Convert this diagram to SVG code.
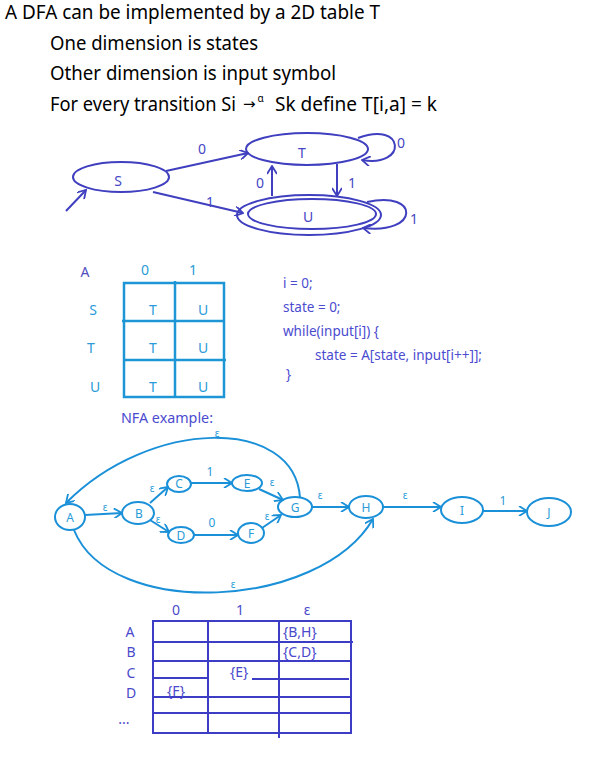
<svg xmlns="http://www.w3.org/2000/svg" width="600" height="757" viewBox="0 0 600 757">
<style>
.h{font-family:"Noto Sans","Open Sans",sans-serif;fill:#000}
.d{fill:none;stroke:#3f3fbf;stroke-width:2}
.dt{font-family:"Noto Sans","Open Sans",sans-serif;font-size:14px;fill:#4646c4;text-anchor:middle}
.t1{fill:none;stroke:#1e96d6;stroke-width:2.5}
.t1t{font-family:"Noto Sans","Open Sans",sans-serif;font-size:14px;fill:#2a9bd8;text-anchor:middle}
.code{font-family:"Noto Sans","Open Sans",sans-serif;font-size:13.5px;fill:#4b4bd0}
.n{fill:none;stroke:#1a90d8;stroke-width:2}
.nt{font-family:"Noto Sans","Open Sans",sans-serif;font-size:12px;fill:#2a9bd8;text-anchor:middle}
.ne{font-family:"Noto Sans","Open Sans",sans-serif;font-size:10px;fill:#2a9bd8;text-anchor:middle}
.t2{fill:none;stroke:#3c3cc4;stroke-width:2}
.t2t{font-family:"Noto Sans","Open Sans",sans-serif;font-size:14px;fill:#4a4acc}
</style>
<defs>
<marker id="ad" viewBox="0 0 10 10" refX="9" refY="5" markerWidth="10" markerHeight="10" markerUnits="userSpaceOnUse" orient="auto">
<path d="M1,0 L9,5 L1,10" fill="none" stroke="#3f3fbf" stroke-width="1.8"/>
</marker>
<marker id="an" viewBox="0 0 10 10" refX="9" refY="5" markerWidth="10" markerHeight="10" markerUnits="userSpaceOnUse" orient="auto">
<path d="M1,0 L9,5 L1,10" fill="none" stroke="#1a90d8" stroke-width="1.8"/>
</marker>
</defs>

<g id="heading">
<text class="h" x="5" y="19" font-size="19" textLength="375" lengthAdjust="spacingAndGlyphs">A DFA can be implemented by a 2D table T</text>
<text class="h" x="50" y="50" font-size="19" textLength="208" lengthAdjust="spacingAndGlyphs">One dimension is states</text>
<text class="h" x="50" y="80" font-size="19" textLength="286" lengthAdjust="spacingAndGlyphs">Other dimension is input symbol</text>
<text class="h" x="50" y="111" font-size="19" textLength="186" lengthAdjust="spacingAndGlyphs">For every transition Si</text>
<text x="243" y="109" font-size="15" font-family="DejaVu Sans, sans-serif" fill="#000">→<tspan font-family="Noto Sans, sans-serif" font-size="10" dy="-7" dx="2">α</tspan></text>
<text class="h" x="275" y="111" font-size="19" textLength="162" lengthAdjust="spacingAndGlyphs">Sk define T[i,a] = k</text>
</g>

<g id="dfa-S"><ellipse class="d" cx="121" cy="177" rx="48" ry="15"/><text class="dt" x="118" y="186">S</text></g>
<g id="dfa-T"><ellipse class="d" cx="307" cy="149" rx="61" ry="16"/><text class="dt" x="302" y="158">T</text></g>
<g id="dfa-U"><ellipse class="d" cx="309" cy="215" rx="72" ry="20"/><ellipse class="d" cx="312" cy="214" rx="64" ry="15"/><text class="dt" x="308" y="222">U</text></g>

<g id="dfa-edges">
<line class="d" x1="66" y1="211" x2="86" y2="190" marker-end="url(#ad)"/>
<line class="d" x1="166" y1="171" x2="248" y2="153" marker-end="url(#ad)"/>
<text class="dt" x="202" y="154">0</text>
<line class="d" x1="153" y1="192" x2="243" y2="213" marker-end="url(#ad)"/>
<text class="dt" x="210" y="207">1</text>
<line class="d" x1="272" y1="196" x2="272" y2="166" marker-end="url(#ad)"/>
<text class="dt" x="260" y="188">0</text>
<line class="d" x1="337" y1="164" x2="337" y2="196" marker-end="url(#ad)"/>
<text class="dt" x="352" y="188">1</text>
<path class="d" d="M358,138 C405,120 408,168 362,160" marker-end="url(#ad)"/>
<text class="dt" x="401" y="148">0</text>
<path class="d" d="M367,202 C420,190 420,235 363,228" marker-end="url(#ad)"/>
<text class="dt" x="414" y="224">1</text>
</g>

<g id="table1">
<rect class="t1" x="124" y="283" width="100" height="114"/>
<line class="t1" x1="175" y1="281" x2="175" y2="397"/>
<line class="t1" x1="122" y1="321" x2="224" y2="321"/>
<line class="t1" x1="124" y1="360" x2="226" y2="360"/>
<text class="dt" x="85" y="277" style="fill:#5050c0">A</text>
<text class="t1t" x="145" y="275">0</text>
<text class="t1t" x="193" y="275">1</text>
<text class="t1t" x="93" y="315">S</text>
<text class="t1t" x="91" y="353">T</text>
<text class="t1t" x="95" y="392">U</text>
<text class="t1t" x="153" y="315">T</text>
<text class="t1t" x="203" y="315">U</text>
<text class="t1t" x="153" y="353">T</text>
<text class="t1t" x="203" y="353">U</text>
<text class="t1t" x="153" y="392">T</text>
<text class="t1t" x="203" y="392">U</text>
</g>

<g id="code">
<text class="code" x="283" y="288">i = 0;</text>
<text class="code" x="283" y="312">state = 0;</text>
<text class="code" x="283" y="336">while(input[i]) {</text>
<text class="code" x="315" y="360">state = A[state, input[i++]];</text>
<text class="code" x="286" y="379">}</text>
</g>

<text class="code" x="121" y="423" font-size="13" textLength="92" lengthAdjust="spacingAndGlyphs">NFA example:</text>

<g id="nfa-A"><ellipse class="n" cx="70" cy="517" rx="15" ry="13"/><text class="nt" x="70" y="522">A</text></g>
<g id="nfa-B"><ellipse class="n" cx="138" cy="513" rx="16" ry="11"/><text class="nt" x="139" y="518">B</text></g>
<g id="nfa-C"><ellipse class="n" cx="179" cy="484" rx="12" ry="8"/><text class="nt" x="179" y="488">C</text></g>
<g id="nfa-D"><ellipse class="n" cx="181" cy="535" rx="13" ry="8"/><text class="nt" x="181" y="540">D</text></g>
<g id="nfa-E"><ellipse class="n" cx="247" cy="483" rx="15" ry="8"/><text class="nt" x="247" y="488">E</text></g>
<g id="nfa-F"><ellipse class="n" cx="251" cy="533" rx="13" ry="10"/><text class="nt" x="251" y="538">F</text></g>
<g id="nfa-G"><ellipse class="n" cx="295" cy="507" rx="17" ry="10"/><text class="nt" x="295" y="512">G</text></g>
<g id="nfa-H"><ellipse class="n" cx="366" cy="507" rx="17" ry="11"/><text class="nt" x="366" y="512">H</text></g>
<g id="nfa-I"><ellipse class="n" cx="462" cy="510" rx="21" ry="13"/><text class="nt" x="462" y="515">I</text></g>
<g id="nfa-J"><ellipse class="n" cx="549" cy="512" rx="22" ry="14"/><text class="nt" x="549" y="517">J</text></g>

<g id="nfa-edges">
<line class="n" x1="85" y1="515" x2="122" y2="513" marker-end="url(#an)"/>
<text class="ne" x="105" y="511">ε</text>
<line class="n" x1="150" y1="503" x2="168" y2="487" marker-end="url(#an)"/>
<text class="ne" x="152" y="492">ε</text>
<line class="n" x1="150" y1="520" x2="169" y2="532" marker-end="url(#an)"/>
<text class="ne" x="158" y="523">ε</text>
<line class="n" x1="191" y1="483" x2="232" y2="483" marker-end="url(#an)"/>
<text class="nt" x="210" y="476">1</text>
<line class="n" x1="194" y1="535" x2="238" y2="535" stroke-width="2.5" marker-end="url(#an)"/>
<text class="nt" x="212" y="527">0</text>
<line class="n" x1="259" y1="489" x2="283" y2="500" marker-end="url(#an)"/>
<text class="ne" x="272" y="486">ε</text>
<line class="n" x1="262" y1="528" x2="281" y2="515" marker-end="url(#an)"/>
<text class="ne" x="267" y="520">ε</text>
<line class="n" x1="312" y1="507" x2="349" y2="507" stroke-width="2.5" marker-end="url(#an)"/>
<text class="ne" x="320" y="499">ε</text>
<line class="n" x1="383" y1="507" x2="441" y2="507" marker-end="url(#an)"/>
<text class="ne" x="405" y="499">ε</text>
<line class="n" x1="483" y1="511" x2="527" y2="511" stroke-width="2.5" marker-end="url(#an)"/>
<text class="nt" x="503" y="505">1</text>
<path class="n" d="M300,498 C295,416 150,418 66,503" marker-end="url(#an)"/>
<text class="ne" x="217" y="437">ε</text>
<path class="n" d="M74,530 C110,620 320,610 373,519" marker-end="url(#an)"/>
<text class="ne" x="233" y="588">ε</text>
</g>

<g id="table2">
<rect class="t2" x="153" y="621" width="198" height="112"/>
<line class="t2" x1="208" y1="621" x2="208" y2="733"/>
<line class="t2" x1="279" y1="621" x2="279" y2="738"/>
<line class="t2" x1="153" y1="642" x2="353" y2="642"/>
<line class="t2" x1="153" y1="661" x2="351" y2="661"/>
<line class="t2" x1="153" y1="678" x2="208" y2="678"/>
<line class="t2" x1="252" y1="679" x2="349" y2="679"/>
<line class="t2" x1="153" y1="697" x2="351" y2="697"/>
<line class="t2" x1="153" y1="713" x2="351" y2="713"/>
<text class="t2t" x="176" y="615" text-anchor="middle">0</text>
<text class="t2t" x="240" y="615" text-anchor="middle">1</text>
<text class="t2t" x="307" y="615" text-anchor="middle">ε</text>
<text class="t2t" x="130" y="637" text-anchor="middle">A</text>
<text class="t2t" x="131" y="657" text-anchor="middle">B</text>
<text class="t2t" x="131" y="678" text-anchor="middle">C</text>
<text class="t2t" x="131" y="698" text-anchor="middle">D</text>
<text class="t2t" x="124" y="724" text-anchor="middle" font-size="11">...</text>
<text class="t2t" x="283" y="637" font-size="13">{B,H}</text>
<text class="t2t" x="283" y="657" font-size="13">{C,D}</text>
<text class="t2t" x="230" y="677" font-size="13">{E}</text>
<text class="t2t" x="167" y="696" font-size="13">{F}</text>
</g>
</svg>
